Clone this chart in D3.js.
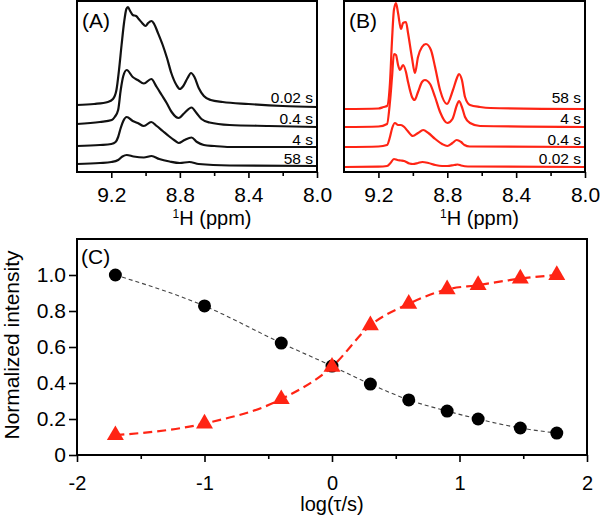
<!DOCTYPE html>
<html>
<head>
<meta charset="utf-8">
<script src="https://cdn.jsdelivr.net/npm/d3@7"></script>
<style>
  html, body { margin: 0; padding: 0; background: #fff; }
  svg { display: block; }
  text { font-family: "Liberation Sans", Arial, Helvetica, sans-serif; fill: #000; }
</style>
</head>
<body>
<svg id="chart" width="600" height="516"></svg>
<script>
// ---------------- DATA ----------------
// Panel axes
const ppmMajorTicks = [9.2, 8.8, 8.4, 8.0];
const ppmMinorTicks = [9.0, 8.6, 8.2];
const logMajorTicks = [-2, -1, 0, 1, 2];
const logMinorTicks = [-1.5, -0.5, 0.5, 1.5];
const intensityTicks = [0, 0.2, 0.4, 0.6, 0.8, 1.0];

// Panel A spectra (black): [ppm, intensity above its own baseline]
const labelsA = ["0.02 s", "0.4 s", "4 s", "58 s"];
const offsetsA = [67, 48, 26, 8];
const specA_002 = [[9.40,0],[9.30,1],[9.22,3],[9.19,6],[9.17,15],[9.155,35],[9.14,60],[9.125,83],[9.112,96],[9.103,98],[9.09,94],[9.075,90],[9.055,89],[9.04,86],[9.02,82],[9.00,79],[8.985,82],[8.965,84],[8.95,81],[8.93,73],[8.90,60],[8.875,47],[8.85,32],[8.82,20],[8.80,16],[8.78,19],[8.755,27],[8.735,32],[8.715,28],[8.69,17],[8.66,9],[8.62,5],[8.55,3],[8.40,1],[8.20,-1],[8.00,-2]];
const specA_04 = [[9.40,0],[9.266,2],[9.197,4],[9.18,7],[9.16,14],[9.145,34],[9.13,48],[9.11,54],[9.075,47],[9.046,44],[9.01,40.5],[8.967,45],[8.935,37],[8.906,29],[8.877,21],[8.848,12],[8.807,6],[8.773,11],[8.732,16.5],[8.703,11],[8.674,5],[8.627,1.5],[8.51,-1],[8.28,-2],[8.00,-3]];
const specA_4 = [[9.40,0],[9.266,1],[9.20,2],[9.175,4],[9.16,9],[9.145,18],[9.13,25],[9.11,29],[9.075,25],[9.046,23],[9.01,20],[8.967,24],[8.935,20],[8.90,15],[8.865,10],[8.83,5.5],[8.807,3],[8.773,6],[8.732,8.5],[8.70,4],[8.66,1],[8.60,0],[8.51,-1],[8.00,-1]];
const specA_58 = [[9.40,0],[9.266,1],[9.20,2],[9.16,4],[9.135,7.5],[9.11,9],[9.07,7.5],[9.01,6.5],[8.965,8],[8.92,5],[8.86,2.5],[8.80,1],[8.745,2],[8.69,0],[8.51,-1.5],[8.00,-2]];
const spectraA = [specA_002, specA_04, specA_4, specA_58];

// Panel B spectra (red)
const labelsB = ["58 s", "4 s", "0.4 s", "0.02 s"];
const offsetsB = [63, 45, 25, 5];
const specB_58 = [[9.40,0],[9.20,0.5],[9.17,2],[9.15,3],[9.133,26],[9.121,69],[9.110,99],[9.098,106],[9.086,96],[9.069,80],[9.057,86],[9.040,87],[9.028,76],[9.005,51],[8.988,36],[8.970,52],[8.947,62],[8.924,65],[8.895,59],[8.871,42],[8.842,19],[8.802,5],[8.767,19],[8.744,31],[8.732,35],[8.715,29],[8.697,12],[8.668,4],[8.61,2],[8.55,1],[8.00,0]];
const specB_4 = [[9.40,0],[9.20,0.5],[9.15,3],[9.133,25],[9.121,50],[9.110,73],[9.098,72],[9.086,62],[9.075,57],[9.057,62],[9.040,55],[9.028,45],[9.005,30],[8.99,27],[8.970,35],[8.947,45],[8.93,47],[8.90,43],[8.871,30],[8.842,15],[8.80,4],[8.77,8],[8.744,22],[8.732,26],[8.715,20],[8.697,10],[8.668,4],[8.61,1],[8.00,0]];
const specB_04 = [[9.40,0],[9.20,0.5],[9.15,2],[9.133,10],[9.12,19],[9.104,24],[9.086,22],[9.069,22],[9.05,20],[9.03,16],[9.00,11],[8.97,14],[8.94,17],[8.91,14],[8.87,8],[8.83,3],[8.80,1],[8.77,4],[8.745,7],[8.72,5],[8.70,2],[8.67,0.5],[8.00,0]];
const specB_002 = [[9.40,0],[9.20,0.3],[9.15,1],[9.13,4],[9.11,8],[9.09,7],[9.07,6.5],[9.05,6],[9.02,3.5],[9.00,3],[8.97,4],[8.945,5],[8.91,4],[8.87,2],[8.83,1],[8.80,1],[8.76,2],[8.74,2.5],[8.72,1.5],[8.68,0.5],[8.00,0]];
const spectraB = [specB_58, specB_4, specB_04, specB_002];

// Panel C: normalized intensity vs log(tau/s)
const logTau = [-1.699, -1.0, -0.398, 0.0, 0.301, 0.602, 0.903, 1.146, 1.477, 1.763];
const circleSeries = [1.0, 0.828, 0.622, 0.494, 0.394, 0.306, 0.244, 0.200, 0.150, 0.122];
const triangleSeries = [0.11, 0.175, 0.31, 0.49, 0.72, 0.84, 0.92, 0.944, 0.98, 1.0];

// ---------------- DRAWING ----------------
const RED = "#ff2414";
const svg = d3.select("#chart");

function spectrumPanel(x0, x1, spectra, offsets, labels, color, tag) {
  const x = d3.scaleLinear().domain([9.4, 8.0]).range([x0, x1]);
  const y = d3.scaleLinear().domain([0, 171]).range([172, 1]);
  const g = svg.append("g");
  const line = d3.line().x(d => x(d[0])).y(d => y(d[1])).curve(d3.curveMonotoneX);
  spectra.forEach((s, i) => {
    g.append("path")
      .datum(s.map(p => [p[0], p[1] + offsets[i]]))
      .attr("d", line)
      .attr("fill", "none")
      .attr("stroke", color)
      .attr("stroke-width", 2.2)
      .attr("stroke-linejoin", "round");
  });
  const labelY = [103, 124, 145, 164];
  labels.forEach((t, i) => {
    g.append("text").attr("x", x1 - 4).attr("y", labelY[i])
      .attr("text-anchor", "end").attr("font-size", 15.5).text(t);
  });
  // frame
  g.append("rect").attr("x", x0).attr("y", 1).attr("width", x1 - x0).attr("height", 171)
    .attr("fill", "none").attr("stroke", "#000").attr("stroke-width", 2);
  // axes
  const ax = g.append("g").attr("transform", "translate(0,172)")
    .call(d3.axisBottom(x).tickValues(ppmMajorTicks).tickSize(6).tickPadding(9).tickFormat(d3.format(".1f")));
  ax.select(".domain").remove();
  ax.selectAll("line").attr("stroke-width", 1.6);
  ax.selectAll("text").attr("font-size", 21).attr("font-family", "Liberation Sans, Arial, sans-serif").attr("fill", "#000");
  const axm = g.append("g").attr("transform", "translate(0,172)")
    .call(d3.axisBottom(x).tickValues(ppmMinorTicks).tickSize(4).tickFormat(""));
  axm.select(".domain").remove();
  axm.selectAll("line").attr("stroke-width", 1.6);
  // axis title
  const t = g.append("text").attr("x", (x0 + x1) / 2 + 15).attr("y", 225)
    .attr("text-anchor", "middle").attr("font-size", 20);
  t.append("tspan").attr("font-size", 12).attr("dy", -7).text("1");
  t.append("tspan").attr("dy", 7).text("H (ppm)");
  g.append("text").attr("x", x0 + 5).attr("y", 28).attr("font-size", 21).text(tag);
}

spectrumPanel(77, 317, spectraA, offsetsA, labelsA, "#111", "(A)");
spectrumPanel(344, 585, spectraB, offsetsB, labelsB, RED, "(B)");

// Panel C
const xC = d3.scaleLinear().domain([-2, 2]).range([77, 587]);
const yC = d3.scaleLinear().domain([0, 1.2]).range([455, 239]);
const gC = svg.append("g");

const lineC = d3.line().x((d, i) => xC(logTau[i])).y(d => yC(d)).curve(d3.curveMonotoneX);
gC.append("path").datum(circleSeries).attr("d", lineC)
  .attr("fill", "none").attr("stroke", "#444").attr("stroke-width", 1.1).attr("stroke-dasharray", "4,3");
gC.append("path").datum(triangleSeries).attr("d", lineC)
  .attr("fill", "none").attr("stroke", RED).attr("stroke-width", 2.2).attr("stroke-dasharray", "9,5");

gC.selectAll("circle.pt").data(circleSeries).enter().append("circle")
  .attr("cx", (d, i) => xC(logTau[i])).attr("cy", d => yC(d)).attr("r", 6.5).attr("fill", "#000");
const tri = d3.symbol().type(d3.symbolTriangle).size(125);
gC.selectAll("path.tri").data(triangleSeries).enter().append("path")
  .attr("d", tri).attr("fill", RED)
  .attr("transform", (d, i) => `translate(${xC(logTau[i])},${yC(d)})`);

gC.append("rect").attr("x", 77).attr("y", 239).attr("width", 510).attr("height", 216)
  .attr("fill", "none").attr("stroke", "#000").attr("stroke-width", 2);

const axCx = gC.append("g").attr("transform", "translate(0,455)")
  .call(d3.axisBottom(xC).tickValues(logMajorTicks).tickSize(7).tickPadding(14).tickFormat(d => d < 0 ? "-" + Math.abs(d) : String(d)));
axCx.select(".domain").remove();
axCx.selectAll("line").attr("stroke-width", 1.6);
axCx.selectAll("text").attr("font-size", 20).attr("font-family", "Liberation Sans, Arial, sans-serif").attr("fill", "#000");
const axCxm = gC.append("g").attr("transform", "translate(0,455)")
  .call(d3.axisBottom(xC).tickValues(logMinorTicks).tickSize(4).tickFormat(""));
axCxm.select(".domain").remove();
axCxm.selectAll("line").attr("stroke-width", 1.6);

const axCy = gC.append("g").attr("transform", "translate(77,0)")
  .call(d3.axisLeft(yC).tickValues(intensityTicks).tickSize(8).tickPadding(3).tickFormat(d => d === 0 ? "0" : d3.format(".1f")(d)));
axCy.select(".domain").remove();
axCy.selectAll("line").attr("stroke-width", 1.6);
axCy.selectAll("text").attr("font-size", 21).attr("font-family", "Liberation Sans, Arial, sans-serif").attr("fill", "#000");

gC.append("text").attr("x", 81).attr("y", 264).attr("font-size", 21).text("(C)");
gC.append("text").attr("x", 332).attr("y", 511).attr("text-anchor", "middle").attr("font-size", 20).text("log(τ/s)");
gC.append("text").attr("transform", "translate(19,345) rotate(-90)").attr("text-anchor", "middle")
  .attr("font-size", 21).text("Normalized intensity");
</script>
</body>
</html>
